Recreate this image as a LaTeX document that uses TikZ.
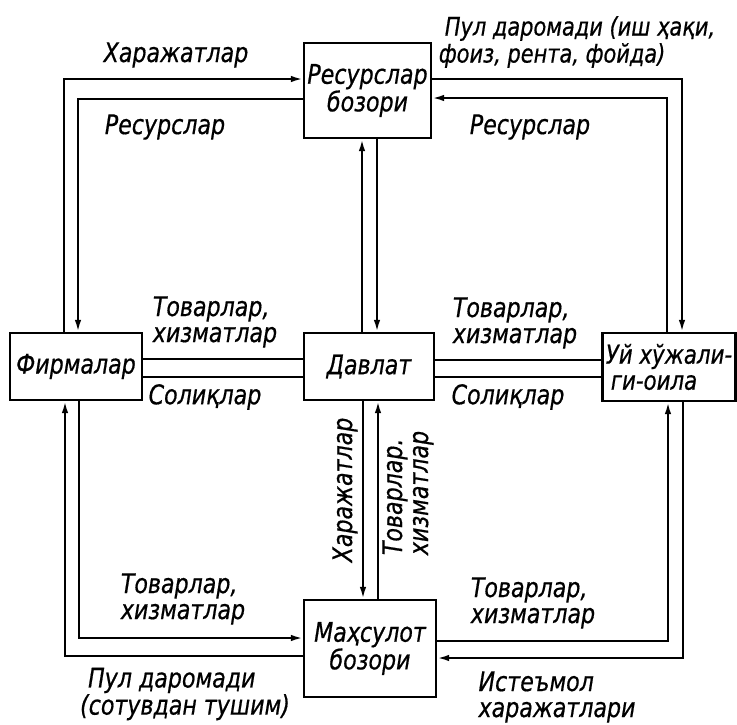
\documentclass[tikz,border=0pt]{standalone}
\usepackage{fontspec}
\setmainfont{DejaVu Sans}[FakeStretch=0.82,FakeBold=0.6]
\usetikzlibrary{arrows.meta}
\begin{document}
\begin{tikzpicture}[x=1pt,y=-1pt,
  box/.style={draw,line width=2.2pt,rectangle,inner sep=0pt,align=center},
  lbl/.style={align=left,inner sep=0pt},
  conn/.style={line width=2.2pt},
  arr/.style={conn,-{Latex[length=12pt,width=6.5pt]}},
  font=\fontsize{27}{26}\selectfont\itshape]
\useasboundingbox (0,0) rectangle (737,724);
% boxes
\node[box,minimum width=127pt,minimum height=95pt] (rb) at (367.5,90.5) {Ресурслар\\бозори};
\node[box,minimum width=132pt,minimum height=67pt] (fm) at (76,366.5) {Фирмалар};
\node[box,minimum width=130pt,minimum height=67pt] (dv) at (369,366.5) {Давлат};
\node[box,minimum width=133pt,minimum height=68pt,align=left,font=\fontsize{26}{26}\selectfont\itshape] (uy) at (669,367) {Уй хўжали-\\\hspace{5pt}ги-оила};
\node[box,minimum width=132pt,minimum height=97pt] (mb) at (370,648.5) {Маҳсулот\\бозори};
% top left
\draw[arr] (64,0 |- fm.north) |- (rb.west |- 0,79);
\draw[arr] (rb.west |- 0,99) -| (78,0 |- fm.north);
% top right
\draw[arr] (rb.east |- 0,79) -| (682,0 |- uy.north);
\draw[arr] (667,0 |- uy.north) |- (rb.east |- 0,98);
% rb - dv
\draw[arr] (377,0 |- rb.south) -- (377,0 |- dv.north);
\draw[arr] (362,0 |- dv.north) -- (362,0 |- rb.south);
% dv - mb
\draw[arr] (363,0 |- dv.south) -- (363,0 |- mb.north);
\draw[arr] (378,0 |- mb.north) -- (378,0 |- dv.south);
% horizontal middle
\draw[conn] (fm.east |- 0,359) -- (dv.west |- 0,359);
\draw[conn] (fm.east |- 0,377) -- (dv.west |- 0,377);
\draw[conn] (dv.east |- 0,360) -- (uy.west |- 0,360);
\draw[conn] (dv.east |- 0,377) -- (uy.west |- 0,377);
% bottom left
\draw[arr] (79,0 |- fm.south) |- (mb.west |- 0,638);
\draw[arr] (mb.west |- 0,656) -| (65,0 |- fm.south);
% bottom right
\draw[arr] (683,0 |- uy.south) |- (mb.east |- 0,658);
\draw[arr] (mb.east |- 0,641) -| (668,0 |- uy.south);
% labels
\node[lbl] (l1) at (176,55) {Харажатлар};
\node[lbl] (l2) at (165,127) {Ресурслар};
\node[lbl,font=\fontsize{25.5}{27}\selectfont\itshape] (l3) at (577,42) {\hspace{6pt}Пул даромади (иш ҳақи,\\фоиз, рента, фойда)};
\node[lbl] (l4) at (530,127) {Ресурслар};
\node[lbl] (l5) at (215,322) {Товарлар,\\хизматлар};
\node[lbl] (l6) at (205,397) {Солиқлар};
\node[lbl] (l7) at (515,323) {Товарлар,\\хизматлар};
\node[lbl] (l8) at (508,397) {Солиқлар};
\node[lbl,rotate=90] (l9) at (345,490) {Харажатлар};
\node[lbl,rotate=90] (l10) at (408,493) {Товарлар.\\хизматлар};
\node[lbl] (l11) at (183,599) {Товарлар,\\хизматлар};
\node[lbl] (l12) at (185,694) {\hspace{8pt}Пул даромади\\(сотувдан тушим)};
\node[lbl] (l13) at (533,603) {Товарлар,\\хизматлар};
\node[lbl] (l14) at (557,697) {Истеъмол\\харажатлари};
\end{tikzpicture}
\end{document}
